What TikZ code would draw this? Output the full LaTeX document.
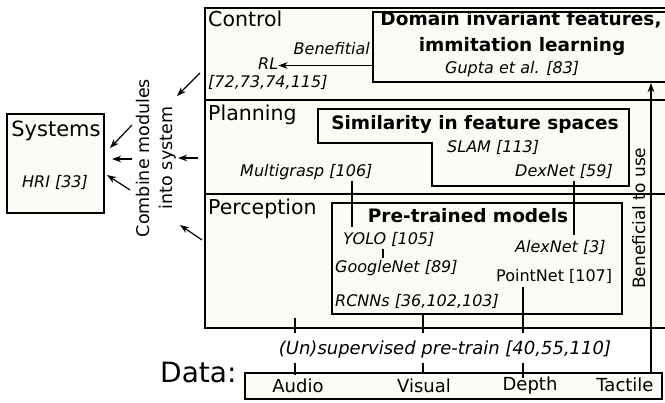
\documentclass[tikz,border=0pt]{standalone}
\usepackage{fontspec}
\setmainfont{DejaVu Sans}
\usetikzlibrary{arrows.meta}
\definecolor{paper}{HTML}{FCFCF7}
\tikzset{
  lbl/.style={inner sep=0pt, font=\fontsize{20.5}{24}\selectfont},
  ital/.style={inner sep=0pt, font=\fontsize{16}{19}\selectfont\itshape},
  upr/.style={inner sep=0pt, font=\fontsize{16}{19}\selectfont},
  ttl/.style={inner sep=0pt, font=\fontsize{18.5}{22}\selectfont\bfseries, align=center},
  dat/.style={inner sep=0pt, font=\fontsize{18}{21}\selectfont},
  boxline/.style={line width=2pt},
  thinbox/.style={line width=1.3pt},
  conn/.style={line width=1.3pt},
  arr/.style={line width=1.2pt, -{Stealth[length=9pt,width=6.5pt,inset=2.5pt]}},
}
\begin{document}
\begin{tikzpicture}[x=1pt,y=-1pt]
\useasboundingbox (0,0) rectangle (665,403);
\clip (0,0) rectangle (665,403);
% main layered box
\draw[boxline, fill=paper] (205,8) rectangle (690,328);
\draw[boxline] (205,100) -- (690,100);
\draw[boxline] (205,194) -- (690,194);
% Control
\node[lbl, anchor=base west] (control) at (208,27) {Control};
\draw[boxline, fill=paper] (373,12) rectangle (690,82);
\node[ttl, anchor=base] (dom1) at (521,26) {Domain invariant features,};
\node[ttl, anchor=base] (dom2) at (522,52) {immitation learning};
\node[ital, anchor=base west] (gupta) at (445,74) {Gupta et al. [83]};
\node[ital, anchor=base east] (benef) at (370,55) {Benefitial};
\node[ital, anchor=base west] (rl) at (258,70) {RL};
\node[ital, anchor=base west] (rlref) at (208,88) {[72,73,74,115]};
\coordinate (domleft) at (373,65.5);
\draw[arr] (domleft) -- (rl.east |- domleft);
% Planning
\node[lbl, anchor=base west] (planning) at (208,121) {Planning};
\draw[boxline, fill=paper] (318,109) -- (629,109) -- (629,186) -- (432,186) -- (432,143.5) -- (318,143.5) -- cycle;
\node[ttl, anchor=base] (sim) at (475,130) {Similarity in feature spaces};
\node[ital, anchor=base west] (slam) at (447,153) {SLAM [113]};
\node[ital, anchor=base west] (mg) at (240,177) {Multigrasp [106]};
\node[ital, anchor=base west] (dex) at (515,177) {DexNet [59]};
% Perception
\node[lbl, anchor=base west] (perception) at (208,215) {Perception};
\draw[thinbox, fill=paper] (332,203) rectangle (622,314);
\node[ttl, anchor=base] (pre) at (468,223) {Pre-trained models};
\node[ital, anchor=base west] (yolo) at (343,245) {YOLO [105]};
\node[ital, anchor=base west] (google) at (335,273) {GoogleNet [89]};
\node[ital, anchor=base west] (alex) at (515,253) {AlexNet [3]};
\node[upr, anchor=base west] (point) at (496,282) {PointNet [107]};
\node[ital, anchor=base west] (rcnn) at (335,307) {RCNNs [36,102,103]};
% connectors inside
\coordinate (mgb) at (352,181);
\coordinate (yolot) at (352,227);
\draw[conn] (mgb) -- (yolot);
\coordinate (yolob) at (383,249);
\coordinate (googt) at (383,258);
\draw[conn] (yolob) -- (googt);
\coordinate (dexb) at (574,181);
\coordinate (alext) at (574,235);
\draw[conn] (dexb) -- (alext);
% Systems
\draw[thinbox, fill=paper] (7,114) rectangle (104,213);
\node[inner sep=0pt, font=\fontsize{21}{25}\selectfont, anchor=base] (systems) at (56,137) {Systems};
\node[ital, anchor=base] (hri) at (55,188) {HRI [33]};
\node[inner sep=0pt, font=\fontsize{17.5}{23}\selectfont, align=center, rotate=90] (combine) at (156,158) {Combine modules\\into system};
\coordinate (c1) at (200,73);
\coordinate (c2) at (198,158);
\coordinate (c3) at (202,240);
\draw[arr] (c1) -- (177,96);
\draw[arr] (c2) -- (178,158);
\draw[arr] (c3) -- (180,225);
\draw[arr] (132,125) -- (110,148);
\draw[arr] (132,159) -- (112,159);
\draw[arr] (130,190) -- (107,175);
% Data
\node[inner sep=0pt, font=\fontsize{28}{31}\selectfont, anchor=base west] (data) at (160,383) {Data:};
\draw[thinbox, fill=paper] (245,373) rectangle (662,399);
\node[dat, anchor=base] (audio) at (298,393) {Audio};
\node[dat, anchor=base] (visual) at (424,393) {Visual};
\node[dat, anchor=base] (depth) at (530,391) {Depth};
\node[dat, anchor=base] (tactile) at (625,392) {Tactile};
\node[inner sep=0pt, font=\fontsize{18}{21}\selectfont\itshape, anchor=base] (pretrain) at (445,355) {(Un)supervised pre-train [40,55,110]};
% vertical connectors
\coordinate (aud1) at (295,318);
\coordinate (aud2) at (295,333);
\coordinate (aud3) at (295,363);
\coordinate (aud4) at (295,375);
\draw[conn] (aud1) -- (aud2);
\draw[conn] (aud3) -- (aud4);
\coordinate (vis1) at (423,314);
\coordinate (vis2) at (423,333);
\coordinate (vis3) at (423,363);
\coordinate (vis4) at (423,374);
\draw[conn] (vis1) -- (vis2);
\draw[conn] (vis3) -- (vis4);
\coordinate (dep1) at (523,287);
\coordinate (dep2) at (523,333);
\coordinate (dep3) at (523,363);
\coordinate (dep4) at (523,378);
\draw[conn] (dep1) -- (dep2);
\draw[conn] (dep3) -- (dep4);
\coordinate (tac1) at (651,372);
\coordinate (tac2) at (651,83);
\draw[arr] (tac1) -- (tac2);
\node[inner sep=0pt, font=\fontsize{17}{20}\selectfont, rotate=90, anchor=base west] (bentouse) at (645,289) {Beneficial to use};
\end{tikzpicture}
\end{document}
